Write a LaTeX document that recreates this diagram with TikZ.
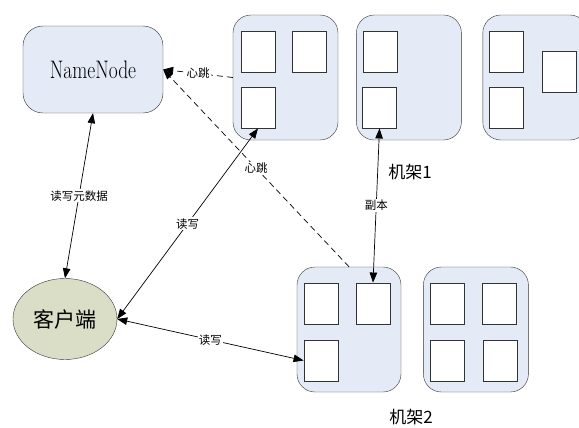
\documentclass[tikz,border=0pt]{standalone}
\usepackage{fontspec}
\usepackage{graphicx}
\usepackage{tikz}
\usetikzlibrary{positioning,arrows.meta,shapes.geometric}
\newfontfamily\cjk{Noto Sans CJK SC}
\definecolor{RackBlue}{HTML}{E5EBF6}
\definecolor{ClientGreen}{HTML}{DADEC6}

\begin{document}
\begin{tikzpicture}[x=1pt, y=-1pt,
  rack/.style={draw=black!80, fill=RackBlue, rounded corners=18pt, minimum width=105pt, minimum height=125pt, inner sep=0pt},
  blk/.style={draw=black!80, line width=0.9pt, fill=white, minimum width=34pt, minimum height=41pt, inner sep=0pt},
  lbl/.style={font=\cjk\fontsize{11.5}{11.5}\selectfont, fill=white, inner sep=1pt},
  rw/.style={{Triangle[length=10pt,width=7.5pt]}-{Triangle[length=10pt,width=7.5pt]}, line width=0.7pt},
  hb/.style={-{Triangle[length=10pt,width=7.5pt]}, dashed, dash pattern=on 6pt off 4pt, line width=0.7pt}]
\useasboundingbox (0,0) rectangle (579,428);
\clip (0,0) rectangle (579,428);
\node[draw=black!80, fill=RackBlue, rounded corners=20pt, minimum width=140pt, minimum height=87pt] (nn) at (93,69.5)
  {\fontsize{19.5}{19.5}\selectfont\scalebox{1}[1.3]{NameNode}};
\node[draw=black!80, fill=ClientGreen, ellipse, minimum width=104pt, minimum height=81pt, inner sep=0pt] (cl) at (65,319)
  {\cjk\fontsize{21}{21}\selectfont 客户端};
\node[rack] (rA) at (285.5,77.5) {};
\node[rack, right=18pt of rA] (rB) {};
\node[rack, right=21pt of rB] (rC) {};
\node[rack, minimum width=104pt] (rD) at (349,329.5) {};
\node[rack, right=22pt of rD] (rE) {};
\node[blk] (a1) at (258,51.5) {};
\node[blk] (a2) at (309.5,51.5) {};
\node[blk] (a3) at (258,107.5) {};
\node[blk] (b1) at (380.5,51.5) {};
\node[blk] (b2) at (379.5,107.5) {};
\node[blk] (c1) at (506.5,51.5) {};
\node[blk] (c2) at (506.5,107.5) {};
\node[blk] (c3) at (559,72) {};
\node[blk] (d1) at (321,303.5) {};
\node[blk] (d2) at (373,303.5) {};
\node[blk] (d3) at (321,360.5) {};
\node[blk] (e1) at (447.5,303.5) {};
\node[blk] (e2) at (499.5,303.5) {};
\node[blk] (e3) at (447.5,360.5) {};
\node[blk] (e4) at (500,360.5) {};
\node[font=\cjk\fontsize{17}{17}\selectfont] (rack1) at (410,172) {机架1};
\node[font=\cjk\fontsize{17}{17}\selectfont] (rack2) at (411,417) {机架2};
\draw[rw] (nn.south) -- node[lbl]{读写元数据} (cl.north);
\draw[rw] (cl.east) -- node[lbl]{读写} (a3.south);
\draw[rw] (cl.east) -- node[lbl]{读写} (d3.west);
\draw[rw] (b2.south) -- node[lbl]{副本} (d2.north);
\draw[hb] (rA.west) -- node[lbl]{心跳} (nn.east);
\draw[hb] (rD.north) -- node[lbl]{心跳} (nn.east);
\end{tikzpicture}
\end{document}
